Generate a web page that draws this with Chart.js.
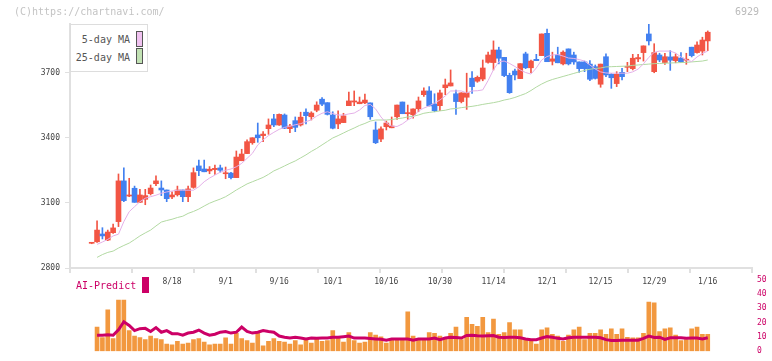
<!DOCTYPE html>
<html>
<head>
<meta charset="utf-8">
<script src="https://cdn.jsdelivr.net/npm/chart.js@4.4.0/dist/chart.umd.min.js"></script>
<style>
  body { margin: 0; background: #fff; }
  #wrap { position: relative; width: 772px; height: 361px; overflow: hidden; font-family: "DejaVu Sans Mono", monospace; }
  #wrap canvas { position: absolute; left: 0; }
  .txt { position: absolute; font-size: 10px; line-height: 10px; white-space: nowrap; }
  #legend { position: absolute; left: 70px; top: 24px; width: 76px; height: 46px; border: 1px solid #ddd; background: #fff; }
  #legend .txt { right: 17px; color: #555; }
  #legend .sw { position: absolute; left: 65px; width: 5px; height: 14px; border: 1px solid #555; }
</style>
</head>
<body>
<div id="wrap">
  <canvas id="priceChart" width="772" height="300" style="top:0"></canvas>
  <canvas id="volChart" width="772" height="91" style="top:270px"></canvas>
  <div class="txt" style="left:14px;top:7px;color:#c4c4c4">(C)https://chartnavi.com/</div>
  <div class="txt" style="left:735px;top:7px;color:#bbb">6929</div>
  <div id="legend">
    <div class="txt" style="top:10px">5-day MA</div>
    <div class="sw" style="top:6px;background:#f0c2f0"></div>
    <div class="txt" style="top:28px">25-day MA</div>
    <div class="sw" style="top:23px;background:#c2e2b4"></div>
  </div>
  <div class="txt" style="left:76px;top:281px;color:#cc0066">AI-Predict</div>
  <div style="position:absolute;left:142px;top:277px;width:7px;height:16px;background:#cc0066"></div>
</div>
<script>
// daily candles, index 0 = oldest
const open  = [2914,2921,2957,2929,2963,3014,3202,3132,3168,3103, 3117,3143,3189,3169,3160,3128,3138,3160,3129,3172,
               3271,3257,3248,3254,3262,3235,3238,3217,3295,3328, 3378,3414,3411,3443,3488,3460,3506,3443,3480,3460,
               3519,3498,3528,3579,3563,3506,3465,3471,3549,3566, 3558,3562,3562,3437,3395,3452,3447,3498,3566,3512,
               3507,3535,3600,3617,3557,3549,3632,3640,3604,3568, 3588,3676,3662,3672,3749,3748,3806,3772,3689,3709,
               3674,3788,3724,3763,3780,3883,3754,3783,3742,3811, 3783,3751,3751,3741,3729,3648,3775,3694,3651,3703,
               3726,3720,3765,3794,3880,3706,3783,3748,3774,3757, 3769,3759,3819,3794,3801,3848];
const high  = [2916,3018,2986,2975,3003,3234,3262,3214,3178,3163, 3163,3183,3225,3202,3160,3152,3178,3160,3178,3262,
               3298,3298,3268,3275,3275,3266,3242,3340,3348,3392, 3401,3469,3429,3488,3509,3511,3511,3463,3497,3519,
               3534,3521,3567,3586,3563,3521,3525,3514,3612,3617, 3589,3603,3562,3474,3452,3478,3497,3552,3566,3552,
               3534,3589,3631,3637,3604,3621,3672,3714,3621,3609, 3699,3706,3686,3760,3796,3848,3819,3772,3699,3718,
               3743,3796,3760,3786,3880,3903,3796,3819,3802,3811, 3796,3751,3755,3757,3737,3741,3788,3697,3706,3722,
               3749,3786,3786,3825,3926,3835,3791,3791,3803,3788, 3794,3791,3819,3844,3865,3894];
const low   = [2912,2918,2934,2926,2960,2991,3106,3129,3103,3101, 3092,3137,3180,3134,3106,3120,3132,3106,3106,3168,
               3226,3244,3235,3232,3242,3212,3211,3217,3295,3328, 3371,3380,3383,3417,3452,3458,3443,3424,3429,3455,
               3465,3483,3521,3549,3506,3442,3443,3471,3549,3549, 3558,3558,3486,3374,3383,3437,3447,3486,3512,3486,
               3491,3521,3592,3548,3521,3526,3600,3640,3509,3562, 3532,3606,3657,3664,3745,3714,3742,3683,3606,3668,
               3674,3720,3701,3757,3780,3752,3737,3747,3737,3737, 3740,3703,3706,3664,3672,3634,3683,3629,3637,3668,
               3706,3714,3752,3755,3829,3701,3752,3740,3712,3747, 3747,3740,3774,3791,3783,3803];
const close = [2914,2975,2948,2966,2985,3202,3111,3137,3103,3137, 3134,3169,3202,3160,3120,3137,3160,3129,3165,3240,
               3249,3244,3256,3260,3251,3238,3217,3312,3326,3383, 3401,3401,3418,3460,3460,3509,3445,3455,3449,3496,
               3503,3515,3552,3556,3509,3445,3488,3502,3571,3571, 3566,3575,3498,3378,3442,3469,3455,3552,3512,3517,
               3534,3571,3617,3548,3526,3608,3645,3654,3568,3608, 3609,3637,3680,3723,3783,3806,3768,3688,3609,3691,
               3743,3724,3755,3757,3880,3752,3765,3747,3796,3742, 3751,3720,3720,3671,3675,3741,3691,3678,3694,3683,
               3729,3768,3771,3825,3848,3794,3760,3775,3759,3775, 3752,3763,3780,3829,3852,3888];

// moving averages as drawn on the chart
const ma5  = [null,2909,2920,2932,2948,2956,3014,3060,3083,3106, 3122,3129,3136,3145,3151,3155,3159,3159,3159,3159,
              3175,3198,3215,3229,3242,3251,3257,3267,3283,3306, 3329,3368,3391,3411,3426,3440,3449,3454,3461,3466,
              3475,3484,3501,3514,3521,3513,3506,3506,3511,3515, 3529,3550,3555,3534,3497,3469,3455,3453,3465,3483,
              3497,3525,3538,3548,3561,3575,3594,3617,3617,3617, 3608,3617,3618,3622,3665,3715,3752,3755,3744,3730,
              3714,3702,3695,3723,3760,3776,3783,3785,3778,3769, 3767,3762,3755,3737,3718,3705,3700,3699,3699,3699,
              3699,3705,3718,3742,3772,3795,3801,3801,3801,3792, 3774,3760,3753,3774,3790,3801];
const ma25 = [null,2849,2862,2872,2878,2892,2904,2915,2931,2948, 2962,2975,2994,3012,3019,3025,3033,3039,3052,3061,
              3072,3086,3099,3109,3118,3129,3144,3160,3174,3188, 3198,3208,3218,3232,3248,3259,3271,3283,3294,3308,
              3322,3338,3352,3368,3384,3400,3411,3423,3435,3446, 3458,3467,3478,3483,3483,3483,3485,3489,3492,3497,
              3500,3506,3514,3518,3521,3525,3528,3534,3536,3540, 3543,3546,3550,3555,3559,3563,3568,3575,3580,3587,
              3596,3605,3619,3635,3649,3661,3670,3677,3684,3691, 3698,3705,3712,3717,3721,3723,3728,3729,3730,3731,
              3732,3735,3737,3739,3741,3743,3744,3745,3746,3747, 3748,3749,3751,3753,3755,3760];

// lower panel
const volume = [null,16.9,9.6,29,8.9,35.8,35.8,14.4,10.6,9.6, 8.1,10.6,8.9,8.1,5,4.4,6.9,5,5.6,8.1,
                8.8,6.3,4.4,5,5,9.4,5,12.5,8.8,7.5, 5.6,12.5,3.8,6.9,8.8,6.9,6.3,5,7.5,4.4,
                8.8,5.6,8.8,6.9,7.5,14.4,9.4,6.3,13.1,7.5, 5.6,6.3,13.1,11.3,10,5.6,8.1,8.1,8.8,27.5,
                10.6,8.1,8.1,13.1,12.5,10.6,9.4,12.5,16.9,8.1, 23.8,18.8,17.5,23.8,13.1,22.5,11.9,13.1,20,15,
                15,8.1,7.5,5,15,16.3,11.9,10.6,6.9,11.3, 15,16.9,8.1,12.5,12.5,15,11.9,15.6,11.9,15.6,
                9.8,9.4,9.4,12.5,34.4,33.8,13.8,15.6,16.3,11.3, 7.5,8.1,15.6,16.9,11.9,11.9];
const aiPredict = [null,11.2,11.2,11.5,11.2,15,20.6,18,14.4,15.8, 16,13.8,16.5,13.3,14.4,12.3,12.3,11.2,12.7,13.3,
                   14.8,12.7,11.2,11.9,13.3,13.8,12.7,13.3,16.9,13.9, 12.7,13.3,14.4,13.8,13.3,10.6,9.8,9.2,9.8,9.2,
                   8.6,9.2,9,9.2,9.2,9.8,9.8,10.2,10.6,9.2, 9.2,9.2,8.9,8.6,8.3,7.7,8.6,8.6,8.6,8.6,
                   7.7,8.6,8.6,8.6,9.2,8.1,9.2,9.8,9.6,9.2, 11,11.2,10.8,10.6,10.8,11,9.8,9.6,9.8,9.8,
                   9.4,8.6,8.1,8.1,9.2,10.2,9.8,9,8.6,9.4, 9.8,9.8,9.8,9.8,9.8,9.4,8.1,7.5,7.5,7.7,
                   7.7,7.7,7.7,9,10.6,9.6,9.8,8.3,9.4,9.4, 9.4,9,9.2,9.2,8.6,9.4];

// date labels, every 10 trading days
const tickIdx = [15,25,35,45,55,65,75,85,95,105,115];
const tickLabels = ["8/18","9/1","9/16","10/1","10/16","10/30","11/14","12/1","12/15","12/29","1/16"];
const priceTicks = [2800,3100,3400,3700];
const volTicks = [0,10,20,30,40,50];

const UP = "#f25544";
const DOWN = "#4280f0";
const X_MIN = -4.05, X_MAX = 123.26;
const monoFont = { family: "DejaVu Sans Mono", size: 8 };

const idx = open.map((_, i) => i);
const candleColor = idx.map(i => close[i] >= open[i] ? UP : DOWN);

new Chart(document.getElementById("priceChart"), {
  type: "bar",
  data: {
    datasets: [
      {
        type: "line", label: "5-day MA", xAxisID: "x", yAxisID: "y",
        data: idx.map(i => ({ x: i, y: ma5[i] })),
        borderColor: "#e4b0e8", borderWidth: 1, pointRadius: 0, order: 0
      },
      {
        type: "line", label: "25-day MA", xAxisID: "x", yAxisID: "y",
        data: idx.map(i => ({ x: i, y: ma25[i] })),
        borderColor: "#b2d9a2", borderWidth: 1, pointRadius: 0, order: 0
      },
      {
        label: "body", xAxisID: "x", yAxisID: "y",
        data: idx.map(i => ({ x: i, y: [open[i], close[i]] })),
        backgroundColor: candleColor, barThickness: 5, minBarLength: 1, grouped: false, order: 1
      },
      {
        label: "wick", xAxisID: "x", yAxisID: "y",
        data: idx.map(i => ({ x: i, y: [low[i], high[i]] })),
        backgroundColor: candleColor, barThickness: 1, grouped: false, order: 2
      }
    ]
  },
  options: {
    responsive: false,
    animation: false,
    devicePixelRatio: 1,
    layout: { padding: { left: 0, right: 20, top: 24, bottom: 0 } },
    plugins: { legend: { display: false }, tooltip: { enabled: false } },
    scales: {
      x: {
        type: "linear", position: "bottom", weight: 1, min: X_MIN, max: X_MAX, offset: false,
        grid: { display: false, drawTicks: false, offset: false },
        border: { display: true, color: "#e0e0e0", width: 2 },
        ticks: {
          padding: 9, color: "#444", font: monoFont, maxRotation: 0, autoSkip: false,
          callback: v => {
            const k = tickIdx.indexOf(v);
            return k < 0 ? "" : tickLabels[k];
          }
        },
        afterBuildTicks: s => { s.ticks = tickIdx.map(v => ({ value: v })); },
        afterFit: s => { s.height = 32; }
      },
      x2: {
        type: "linear", position: "bottom", weight: 0, min: 0, max: 11, offset: false,
        ticks: { display: false, stepSize: 1 },
        grid: { drawOnChartArea: false, drawTicks: true, tickLength: 5, color: "#e0e0e0", lineWidth: 2, offset: false },
        border: { display: false },
        afterFit: s => { s.height = 0; }
      },
      y: {
        position: "left", min: 2800, max: 3926,
        ticks: { padding: 5, color: "#444", font: monoFont, callback: v => String(v) },
        afterBuildTicks: s => { s.ticks = priceTicks.map(v => ({ value: v })); },
        grid: { drawOnChartArea: false, tickLength: 5, color: "#e0e0e0" },
        border: { color: "#e0e0e0", width: 2 },
        afterFit: s => { s.width = 70; }
      }
    }
  }
});

new Chart(document.getElementById("volChart"), {
  type: "bar",
  data: {
    datasets: [
      {
        type: "line", label: "AI-Predict",
        data: idx.map(i => ({ x: i, y: aiPredict[i] })),
        borderColor: "#cc0066", borderWidth: 3, pointRadius: 0, order: 0
      },
      {
        label: "volume",
        data: idx.map(i => ({ x: i, y: volume[i] })),
        backgroundColor: "#f2983f", barThickness: 4, order: 1
      }
    ]
  },
  options: {
    responsive: false,
    animation: false,
    devicePixelRatio: 1,
    layout: { padding: { left: 70, right: 0, top: 8, bottom: 3 } },
    plugins: { legend: { display: false }, tooltip: { enabled: false } },
    scales: {
      x: { type: "linear", display: false, min: X_MIN, max: X_MAX, offset: false, grid: { offset: false } },
      y: {
        position: "right", min: 0, max: 50,
        ticks: { padding: 5, color: "#cc0066", font: monoFont },
        afterBuildTicks: s => { s.ticks = volTicks.map(v => ({ value: v })); },
        grid: { display: false, drawTicks: false },
        border: { display: false },
        afterFit: s => { s.width = 20; }
      }
    }
  }
});
</script>
</body>
</html>
